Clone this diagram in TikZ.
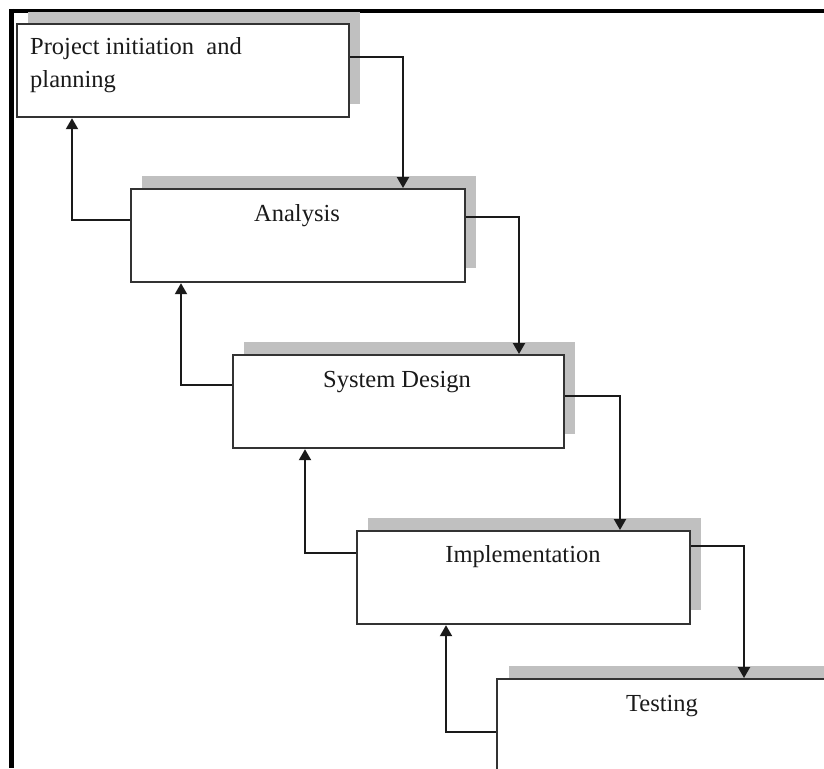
\documentclass[tikz,border=0pt]{standalone}
\usepackage{fontspec}
\setmainfont{Liberation Serif}
\usetikzlibrary{arrows.meta}
\definecolor{shade}{HTML}{C0C0C0}
\definecolor{edge}{HTML}{333333}
\definecolor{ink}{HTML}{1A1A1A}
\begin{document}
\begin{tikzpicture}[x=1pt,y=-1pt,
  stage/.style={draw=edge, line width=2.2pt, fill=white, rectangle, inner sep=0pt, anchor=north west},
  shadowbox/.style={fill=shade, draw=none, rectangle, inner sep=0pt, anchor=north west},
  stagetext/.style={font=\fontsize{24.5}{33}\selectfont, text=ink, inner sep=0pt, anchor=base},
  flow/.style={draw=ink, line width=2.1pt, -{Triangle[length=11pt,width=12pt]}}]
\useasboundingbox (0,0) rectangle (824,768);
\clip (0,0) rectangle (824,768);
% frame
\draw[line width=4.5pt, black] (9,11) -- (824,11);
\draw[line width=5pt, black] (11,9) -- (11,768);
% shadows
\node[shadowbox, minimum width=332pt, minimum height=92pt] (Psh) at (28,12) {};
\node[shadowbox, minimum width=334pt, minimum height=92pt] (Ash) at (142,176) {};
\node[shadowbox, minimum width=331pt, minimum height=92pt] (Ssh) at (244,342) {};
\node[shadowbox, minimum width=333pt, minimum height=92pt] (Ish) at (368,518) {};
\node[shadowbox, minimum width=333pt, minimum height=92pt] (Tsh) at (509,666) {};
% boxes
\node[stage, minimum width=332pt, minimum height=93pt] (P) at (16,23) {};
\node[stage, minimum width=334pt, minimum height=93pt] (A) at (130,188) {};
\node[stage, minimum width=331pt, minimum height=93pt] (S) at (232,354) {};
\node[stage, minimum width=333pt, minimum height=93pt] (I) at (356,530) {};
\node[stage, minimum width=333pt, minimum height=93pt] (T) at (496,678) {};
% texts
\node[stagetext, anchor=base west, align=left] (Pt) at (30,88) {Project initiation\ \ and\\planning};
\node[stagetext] (At) at (297,221) {Analysis};
\node[stagetext] (St) at (397,387) {System Design};
\node[stagetext] (It) at (523,562) {Implementation};
\node[stagetext] (Tt) at (662,711) {Testing};
% forward connectors
\draw[flow] (P.east |- 0,57) -| (A.north -| 403,0);
\draw[flow] (A.east |- 0,217) -| (S.north -| 519,0);
\draw[flow] (S.east |- 0,396) -| (I.north -| 620,0);
\draw[flow] (I.east |- 0,546) -| (T.north -| 744,0);
% feedback connectors
\draw[flow] (A.west |- 0,220) -| (P.south -| 72,0);
\draw[flow] (S.west |- 0,385) -| (A.south -| 181,0);
\draw[flow] (I.west |- 0,553) -| (S.south -| 305,0);
\draw[flow] (T.west |- 0,732) -| (I.south -| 446,0);
\end{tikzpicture}
\end{document}
